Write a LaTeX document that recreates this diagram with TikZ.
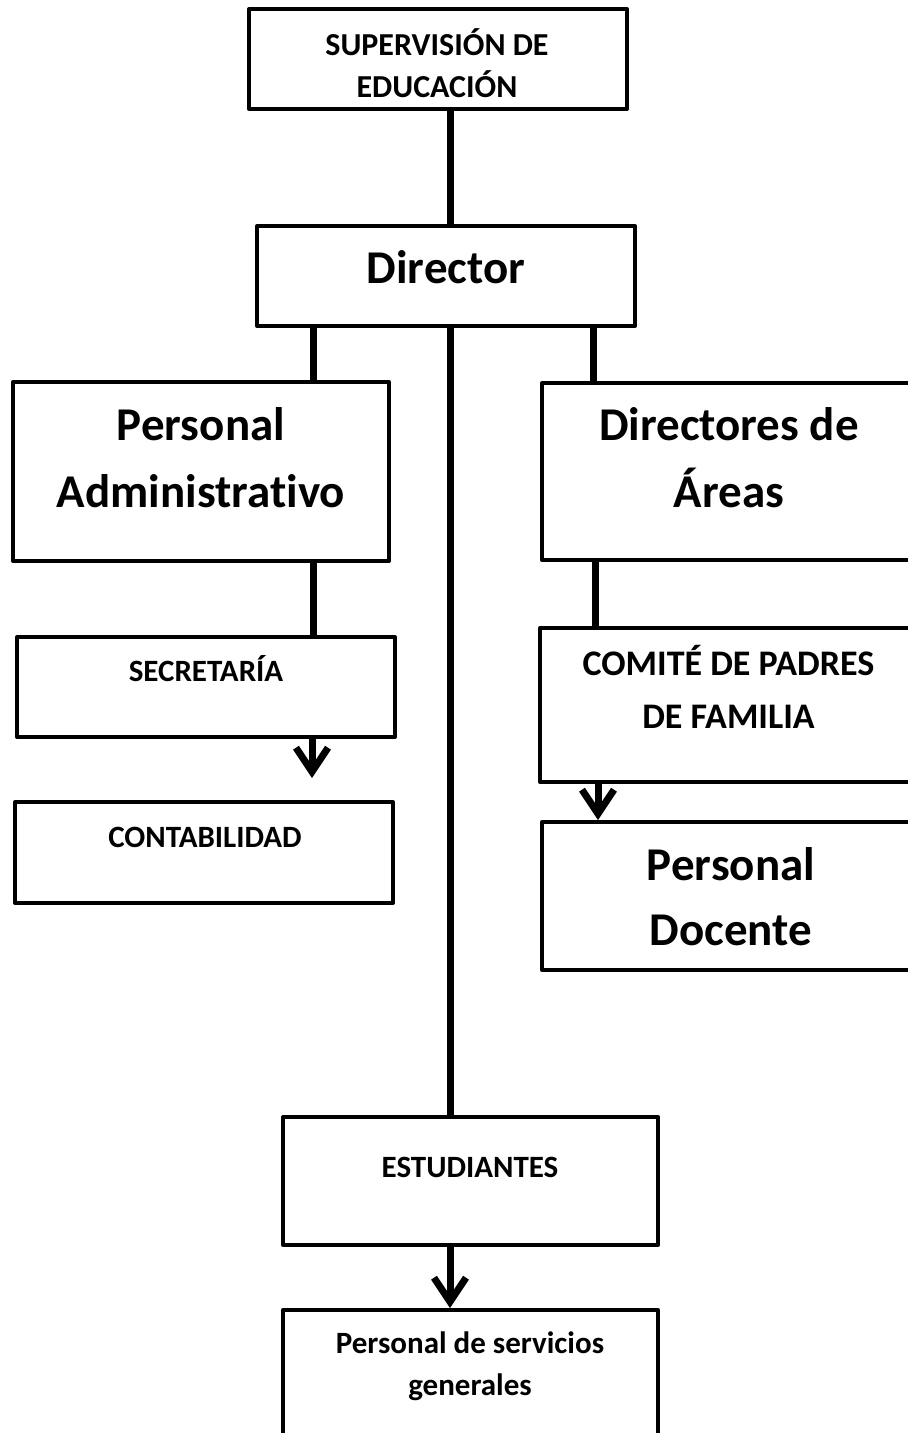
\documentclass[tikz,border=0pt]{standalone}
\usepackage{fontspec}
\setmainfont{Carlito}[Ligatures=NoCommon]
\usetikzlibrary{arrows.meta}
\begin{document}
\begin{tikzpicture}[x=1pt,y=-1pt,
  box/.style={draw=black,line width=4pt,line join=round,rectangle,inner sep=0pt,fill=white},
  conn/.style={draw=black,line width=7pt},
  arr/.style={conn,-{Straight Barb[length=24pt,width=32pt]}},
  big/.style={font=\fontsize{47}{56}\selectfont\bfseries,anchor=base,inner sep=0pt},
  mid/.style={font=\fontsize{36}{43}\selectfont\bfseries,anchor=base,inner sep=0pt},
  sup/.style={font=\fontsize{32}{38}\selectfont\bfseries,anchor=base,inner sep=0pt},
  small/.style={font=\fontsize{31}{37}\selectfont\bfseries,anchor=base,inner sep=0pt}]
\path[use as bounding box] (0,0) rectangle (908,1433);
\clip (0,0) rectangle (908,1433);
\fill[white] (0,0) rectangle (908,1433);
% boxes
\node[box,minimum width=378pt,minimum height=100pt] (sv) at (438,59) {};
\node[box,minimum width=378pt,minimum height=100pt] (dir) at (446,276) {};
\node[box,minimum width=376pt,minimum height=179pt] (pa) at (201,471.5) {};
\node[box,minimum width=376pt,minimum height=177pt] (da) at (730,471.5) {};
\node[box,minimum width=378pt,minimum height=100pt] (sec) at (206,687) {};
\node[box,minimum width=378pt,minimum height=101pt] (cont) at (204,852.5) {};
\node[box,minimum width=378pt,minimum height=154pt] (com) at (729,705) {};
\node[box,minimum width=376pt,minimum height=148pt] (doc) at (730,896) {};
\node[box,minimum width=375pt,minimum height=128pt] (est) at (470.5,1181) {};
\node[box,minimum width=375pt,minimum height=150pt] (psg) at (470.5,1385) {};
% texts
\node[sup] (svA) at (437,55) {SUPERVISIÓN DE};
\node[sup] (svB) at (437,97) {EDUCACIÓN};
\node[big] (dirT) at (446,283) {Director};
\node[big] (paA) at (201,440) {Personal};
\node[big] (paB) at (201,507) {Administrativo};
\node[big] (daA) at (729,440) {Directores de};
\node[big] (daB) at (729,507) {Áreas};
\node[small] (secT) at (206,681) {SECRETARÍA};
\node[small] (contT) at (205,847) {CONTABILIDAD};
\node[mid] (comA) at (728.5,675) {COMITÉ DE PADRES};
\node[mid] (comB) at (728.5,728) {DE FAMILIA};
\node[big] (docA) at (731,880) {Personal};
\node[big] (docB) at (731,945) {Docente};
\node[small] (estT) at (470,1177) {ESTUDIANTES};
\node[small] (psgA) at (470,1353) {Personal de servicios};
\node[small] (psgB) at (470,1395) {generales};
% connectors
\draw[conn] ([xshift=12pt]sv.south) -- ([xshift=4pt]dir.north);
\draw[conn] ([xshift=-133pt]dir.south) -- ([xshift=112pt]pa.north);
\draw[conn] ([xshift=147pt]dir.south) -- ([xshift=-137pt]da.north);
\draw[conn] ([xshift=4pt]dir.south) -- ([xshift=-20.5pt]est.north);
\draw[conn] ([xshift=112pt]pa.south) -- ([xshift=107pt]sec.north);
\draw[conn] ([xshift=-135pt]da.south) -- ([xshift=-134pt]com.north);
\draw[arr,shorten >=22pt] ([xshift=106pt]sec.south) -- ([xshift=108pt]cont.north);
\draw[arr] ([xshift=-131pt]com.south) -- ([xshift=-132pt]doc.north);
\draw[arr] ([xshift=-20.5pt]est.south) -- ([xshift=-20.5pt]psg.north);
\end{tikzpicture}
\end{document}
